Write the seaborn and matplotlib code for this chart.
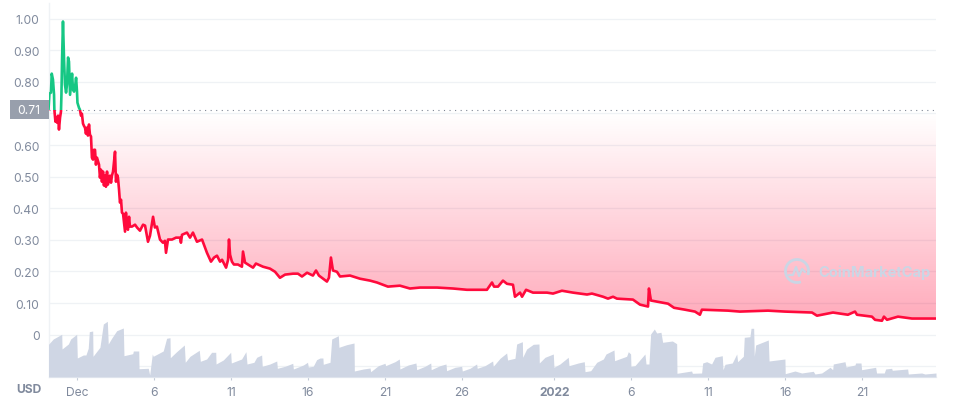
import numpy as np
import pandas as pd
import matplotlib
matplotlib.use("Agg")
import matplotlib.pyplot as plt
from matplotlib.patches import Rectangle, PathPatch, Arc
from matplotlib.transforms import IdentityTransform
from matplotlib.lines import Line2D
import seaborn as sns

# days since 1 Dec 2021
price_day = [-1.85,-1.79,-1.69,-1.64,-1.56,-1.49,-1.47,-1.43,-1.40,-1.36,-1.30,-1.23,-1.17,-1.10,-1.04,-1.01,-.97,-.91,-.84,-.78,-.71,-.65,-.58,-.52,-.45,-.39,-.32,-.26,-.19,-.13,-.06,0,.03,.13,.19,.26,.32,.39,.45,.52,.58,.65,.71,.78,.84,.91,.97,1.04,1.10,1.17,1.23,1.30,1.43,1.49,1.56,1.62,1.69,1.75,1.82,1.88,1.95,2.01,2.14,2.21,2.27,2.34,2.47,2.53,2.60,2.66,2.73,2.79,2.86,2.92,2.99,3.12,3.18,3.25,3.31,3.38,3.44,3.57,3.77,3.90,4.09,4.29,4.42,4.61,4.74,4.94,5.06,5.19,5.39,5.58,5.71,5.78,5.91,6.17,6.43,6.69,6.75,6.82,7.14,7.34,7.53,7.79,8.12,8.44,8.70,8.90,9.09,9.29,9.42,9.68,9.81,9.87,9.94,10.06,10.19,10.45,10.71,10.78,10.91,11.23,11.43,11.62,12.08,12.53,12.86,13.18,13.51,14.03,14.35,14.61,14.94,15.32,15.52,15.71,16.23,16.36,16.49,16.62,16.88,17.08,17.73,18.38,19.03,19.48,20.19,20.97,21.62,22.27,23.38,24.42,25.32,26.62,26.95,27.08,27.34,27.66,27.92,28.31,28.44,28.77,28.90,29.16,29.61,30.52,30.91,31.49,32.21,33.12,33.44,34.16,34.48,34.81,35.06,36.10,36.56,37.08,37.14,37.27,38.38,38.77,39.48,40.13,40.45,40.58,42.27,43.05,44.87,45.97,47.73,48.05,49.09,50.06,50.52,50.65,51.62,51.82,52.27,52.40,52.60,53.31,54.22,54.61,55.78]
price_usd = [.712,.763,.766,.826,.807,.759,.712,.690,.674,.687,.671,.693,.649,.687,.706,.759,.870,.991,.870,.791,.766,.791,.877,.864,.759,.791,.826,.775,.769,.782,.813,.769,.734,.718,.712,.693,.699,.668,.661,.655,.636,.655,.630,.665,.633,.627,.560,.554,.585,.585,.538,.560,.538,.497,.522,.484,.516,.472,.503,.468,.516,.475,.503,.481,.503,.516,.579,.484,.506,.497,.459,.418,.427,.386,.383,.326,.386,.339,.332,.373,.342,.342,.348,.339,.329,.348,.345,.294,.313,.373,.339,.342,.301,.291,.297,.259,.301,.301,.307,.307,.291,.316,.323,.307,.323,.294,.301,.259,.231,.244,.250,.231,.237,.212,.237,.301,.253,.231,.222,.222,.215,.263,.228,.218,.212,.225,.215,.209,.199,.180,.190,.193,.193,.184,.196,.187,.203,.187,.168,.180,.244,.203,.199,.184,.187,.177,.171,.165,.152,.155,.146,.149,.149,.146,.142,.142,.165,.152,.152,.171,.161,.158,.120,.133,.120,.142,.133,.133,.130,.139,.133,.127,.130,.120,.114,.120,.114,.111,.095,.089,.146,.108,.098,.085,.079,.073,.063,.079,.076,.073,.076,.073,.070,.060,.070,.063,.073,.063,.057,.047,.044,.057,.047,.057,.051,.051,.051]

volume_day = [-1.85,-1.54,-.99,-.97,-.56,-.41,-.02,.02,.41,.58,.73,.80,1.02,1.04,1.49,1.71,1.97,2.03,2.25,2.58,3.01,3.05,3.62,3.66,4.01,4.03,4.63,4.72,4.89,4.95,5.60,5.82,6.04,6.06,6.47,6.97,7.03,7.34,7.94,8.01,8.42,8.74,9.01,9.03,9.50,9.98,10.02,10.69,10.97,11.04,11.49,11.67,11.99,12.03,12.53,12.97,13.01,13.51,14.01,14.05,14.70,14.97,15.02,15.34,15.56,15.78,15.97,15.99,16.43,16.54,16.97,17.01,17.51,17.99,18.01,18.59,19.03,19.07,19.57,20.0,20.04,20.65,20.93,20.97,21.51,22.01,22.06,22.60,22.97,23.0,23.57,23.96,24.0,24.55,24.98,25.02,25.52,25.95,25.99,26.49,26.99,27.03,27.47,27.90,27.96,28.44,28.55,28.92,28.94,29.2,29.63,30.0,30.02,30.39,30.93,30.97,31.36,31.90,31.95,32.55,32.94,32.99,33.36,33.75,34.18,34.35,34.87,34.91,35.69,35.80,35.95,35.97,36.23,36.88,36.95,37.14,37.25,37.49,37.64,37.92,38.03,38.66,38.94,38.96,39.91,39.96,40.56,40.63,40.89,41.21,41.43,41.90,41.95,42.08,42.55,42.84,42.90,43.27,43.33,43.70,43.77,43.94,43.98,44.07,44.89,44.94,45.97,45.99,46.62,47.06,47.81,47.92,48.36,48.90,49.07,49.11,49.87,49.94,50.52,50.56,50.91,50.95,51.86,51.92,52.42,52.51,52.90,52.94,53.94,53.98,54.85,55.06,55.78]
volume_musd = [32.7,38,42.7,28,33,38,42.7,19,22,22,28.7,45.3,46,20.7,29.7,53,55.7,33,38.7,46.3,49,21.3,23.3,26,26,8.3,8.7,2,23,20.7,26,38.7,39.3,19.3,25.3,32,14.7,20.7,26.7,15.7,18,24.7,24.7,13,17,24.7,14,18,25.3,13,14.7,19.7,22,10.7,13,16,8.7,10.7,13.7,8,12,14.7,10,10.7,17.3,19,19,12.7,14.7,38,41.3,29.7,32.3,34,6,8,9,5.3,11.3,13.7,11.3,15.3,18,8,12,14,7.3,10.7,14,7.3,11.3,13,6.3,9.7,10.7,6,8.7,13,8.7,11.3,16,10.7,18.7,24,17,18.7,33,35.3,19.7,28,32.7,33,14,19.7,23,9.7,13,19.7,11.3,14,15.3,5.3,6.3,14.7,18,23,27,16.3,20.7,25.3,23,10.7,11.3,23,13,13,43,48,44,44.7,34.7,36,33.3,3.7,6,3.7,4,14,15.3,13,19.7,21.3,7.3,12.7,14,23,15.3,20.7,39.7,40.3,48.7,48.7,20.7,32,37,16,18,3.3,6,4,5.7,3,4,9.7,7.3,13,15.3,10,12,14,14,7.3,9.7,4,4,8,8.7,6.7,8,3,4,3,4]

y_ticks = [-0.1,0,0.1,0.2,0.3,0.4,0.5,0.6,0.7,0.8,0.9,1.0]
y_labels = ["","0","0.10","0.20","0.30","0.40","0.50","0.60","","0.80","0.90","1.00"]
x_ticks = [0,5,10,15,20,25,31,36,41,46,51]
x_labels = ["Dec","6","11","16","21","26","2022","6","11","16","21"]
baseline = 0.712

W, H = 955, 402
sns.set_theme(style="white")
plt.rcParams["font.family"] = ["Inter", "DejaVu Sans"]
fig = plt.figure(figsize=(W/100, H/100), dpi=100, facecolor="white")
ax = fig.add_axes([48.5/W, 1-378/H, (936-48.5)/W, 374/H])
GRID, TXT = "#EFF2F5", "#808A9D"
RED, GREEN = "#FF0A3C", "#16C784"

xlim = (-1.85, 55.78)
ylim = (-0.134, 1.0495)

price = pd.DataFrame({"day": price_day, "usd": price_usd})
volume = pd.DataFrame({"day": volume_day, "vol": volume_musd})

# area under/over baseline with vertical gradients
poly = ax.fill_between(price["day"], price["usd"], baseline, color="none", lw=0)
path = poly.get_paths()[0]

def gradient(rgb, a_start, a_end, y0, y1):
    n = 256
    img = np.zeros((n, 2, 4))
    img[..., :3] = rgb
    img[..., 3] = np.linspace(a_start, a_end, n)[:, None]
    im = ax.imshow(img, extent=(xlim[0], xlim[1], y0, y1), origin="lower",
                   aspect="auto", zorder=1.5, interpolation="bilinear")
    im.set_clip_path(PathPatch(path, transform=ax.transData))

gradient((1, 0, 0.2), 0.34, 0.0, 0.03, baseline - 0.005)
gradient((0.09, 0.78, 0.52), 0.0, 0.10, baseline, 1.0)

sns.lineplot(data=price, x="day", y="usd", ax=ax, estimator=None, sort=False,
             color=RED, lw=1.9, zorder=3)
sns.lineplot(data=price, x="day", y="usd", ax=ax, estimator=None, sort=False,
             color=GREEN, lw=1.9, zorder=3)
l_red, l_green = ax.get_lines()[-2:]
l_red.set_clip_path(Rectangle((xlim[0], ylim[0]), xlim[1]-xlim[0], baseline-ylim[0], transform=ax.transData))
l_green.set_clip_path(Rectangle((xlim[0], baseline), xlim[1]-xlim[0], ylim[1]-baseline, transform=ax.transData))

ax.axhline(baseline, color="#7E8694", lw=0.8, ls=(0, (1, 4)), zorder=2)

ax.set_xlim(*xlim)
ax.set_ylim(*ylim)
ax.set_xlabel("")
ax.set_ylabel("")
ax.set_yticks(y_ticks, y_labels)
ax.set_xticks(x_ticks, x_labels)
ax.grid(axis="y", color=GRID, lw=0.9)
ax.set_axisbelow(True)
ax.tick_params(axis="y", length=0, pad=6.5, labelsize=8.7, labelcolor=TXT)
ax.tick_params(axis="x", length=2.5, width=0.8, color="#C4CBD8", pad=4, labelsize=8.7,
               labelcolor=TXT, bottom=True)
for lab in ax.get_xticklabels():
    if lab.get_text() == "2022":
        lab.set_fontweight("bold")
for s in ("top", "right"):
    ax.spines[s].set_visible(False)
for s in ("left", "bottom"):
    ax.spines[s].set_color(GRID)
    ax.spines[s].set_linewidth(1)

# volume band
ax_v = ax.twinx()
ax_v.set_zorder(ax.get_zorder() + 1)
ax_v.patch.set_visible(False)
ax_v.fill_between(volume["day"], volume["vol"], 0, color="#CFD6E4", lw=0)
ax_v.set_ylim(0, 374)
ax_v.set_yticks([])
ax_v.set_ylabel("")
ax_v.grid(False)
for s in ax_v.spines.values():
    s.set_visible(False)

# current price tag
fig.add_artist(Rectangle((10/W, 1-120/H), 39/W, 19/H, transform=fig.transFigure,
                         color="#989FAC", lw=0, zorder=5))
fig.text(28.5/W, 1-110.5/H, "0.71", color="white", fontsize=8.7, ha="center", va="center", zorder=6)
fig.text(16/W, 1-390.5/H, "USD", color=TXT, fontsize=8.7, fontweight="bold", ha="left", va="center")

# watermark
WM = "#CAD6E5"
fig.add_artist(Arc((797, H-272), 23, 23, theta1=-20, theta2=290, transform=IdentityTransform(),
                   color=WM, lw=2.0, zorder=7))
fig.add_artist(Line2D([789, 793, 796, 799, 802, 805], [H-276, H-276, H-268, H-277, H-270, H-273],
                      transform=IdentityTransform(), color=WM, lw=1.6, zorder=7))
fig.text(818/W, 1-272.5/H, "CoinMarketCap", color=WM, fontsize=10.6, fontweight="bold",
         ha="left", va="center", zorder=7)

fig.savefig("out.png", dpi=100)
